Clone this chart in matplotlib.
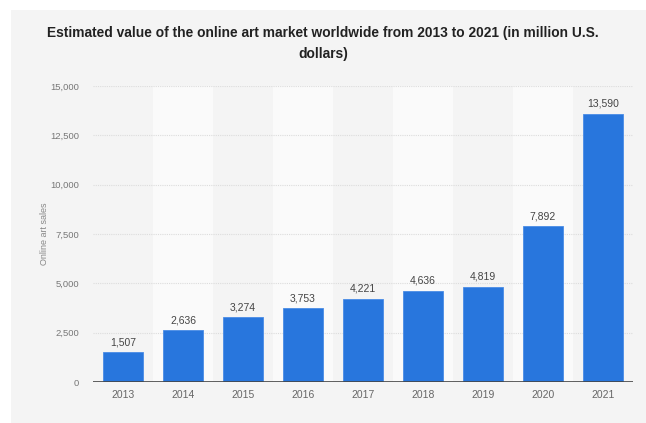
import matplotlib.pyplot as plt
from matplotlib.patches import Rectangle
from matplotlib.ticker import FuncFormatter

years = ['2013', '2014', '2015', '2016', '2017', '2018', '2019', '2020', '2021']
sales = [1507, 2636, 3274, 3753, 4221, 4636, 4819, 7892, 13590]
y_ticks = [0, 2500, 5000, 7500, 10000, 12500, 15000]

plt.rcParams['font.family'] = ['Liberation Sans', 'DejaVu Sans']

fig = plt.figure(figsize=(6.46, 4.23), dpi=100)
fig.patch.set_facecolor('white')

# grey card behind the chart
fig.patches.append(Rectangle((11 / 646, -0.01), 1, 1.01 - 10 / 423, transform=fig.transFigure,
                             facecolor='#f4f4f4', edgecolor='none', zorder=-5))

ax = fig.add_axes([93 / 646, 1 - 382 / 423, 540 / 646, 296 / 423])
ax.set_facecolor('none')

x = range(len(years))

# alternating column bands
for i in x:
    if i % 2 == 1:
        ax.axvspan(i - 0.5, i + 0.5, color='#fafafa', zorder=0, lw=0)

bars = ax.bar(x, sales, width=0.68, color='#2876dd', edgecolor='#4a8ce6', linewidth=0.6, zorder=3)

for xi, v in zip(x, sales):
    ax.text(xi, v + 250, f'{v:,}', ha='center', va='bottom', fontsize=7.5, color='#444444', zorder=4)

ax.set_xlim(-0.5, len(years) - 0.5)
ax.set_ylim(0, 15000)
ax.set_yticks(y_ticks)
ax.yaxis.set_major_formatter(FuncFormatter(lambda v, p: f'{int(v):,}'))
ax.set_xticks(list(x))
ax.set_xticklabels(years)

ax.grid(axis='y', color='#dcdcdc', linestyle=(0, (1, 1)), linewidth=0.8, zorder=1)
ax.axhline(0, color='#444444', linewidth=1.2, zorder=5)

for s in ax.spines.values():
    s.set_visible(False)
ax.tick_params(axis='y', length=0, labelsize=6.8, labelcolor='#777777', pad=10)
ax.tick_params(axis='x', length=0, labelsize=7.5, labelcolor='#666666', pad=6)

ax.set_ylabel('Online art sales', fontsize=6.5, color='#888888', labelpad=1)

fig.text(0.5, 1 - 33 / 423, 'Estimated value of the online art market worldwide from 2013 to 2021 (in million U.S.',
         ha='center', va='center', fontsize=9.9, fontweight='bold', color='#222222')
fig.text(0.5, 1 - 54 / 423, 'dollars)', ha='center', va='center', fontsize=9.9,
         fontweight='bold', color='#222222')

fig.savefig('out.png', dpi=100)
